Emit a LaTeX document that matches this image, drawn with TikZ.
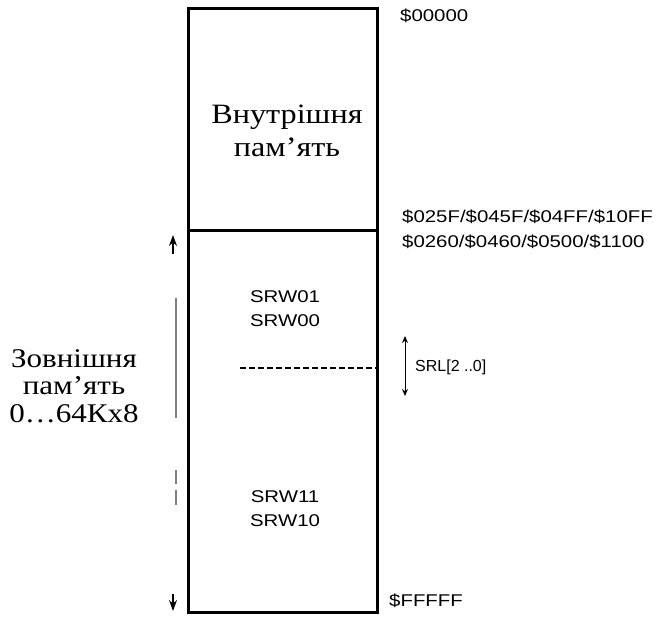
\documentclass[tikz,border=0pt]{standalone}
\usepackage{fontspec}
\setmainfont{Liberation Serif}
\newfontfamily\widefont[FakeStretch=1.15]{Liberation Serif}
\newfontfamily\addrfont[FakeStretch=1.2]{Liberation Sans}
\usetikzlibrary{arrows.meta}

\tikzset{
  memtext/.style={font=\widefont\fontsize{28}{33}\selectfont, align=center, inner sep=0pt},
  sidetext/.style={font=\widefont\fontsize{27}{27.5}\selectfont, align=center, inner sep=0pt},
  addr/.style={font=\addrfont\fontsize{17}{24}\selectfont, anchor=west, inner sep=0pt},
  frame/.style={line width=3pt},
  tip/.style={-{Stealth[length=11pt,width=8pt]}, line width=1.2pt},
}

\begin{document}
\begin{tikzpicture}[x=1pt, y=-1pt]
      \useasboundingbox (0,0) rectangle (667,619);
      % 1. кути рамки та межа між областями
      \coordinate (TL) at (188,8);
      \coordinate (BR) at (377,612);
      \coordinate (ML) at (188,230);
      \coordinate (MR) at (377,230);

      % 2. рамка пам'яті
      \draw[frame] (TL) rectangle (BR);
      \draw[frame] (ML) -- (MR);

      % 3. внутрішня пам'ять
      \node[memtext] (inner) at (287,131) {Внутрішня\\пам’ять};

      % 4. адреси праворуч
      \node[addr] (a0) at (400,16) {\$00000};
      \node[addr] (a1) at (402,217) {\$025F/\$045F/\$04FF/\$10FF};
      \node[addr] (a2) at (402,242) {\$0260/\$0460/\$0500/\$1100};
      \node[addr] (aF) at (389,601) {\$FFFFF};

      % 5. сектори зовнішньої пам'яті
      \node[addr, anchor=center, align=center] (srw0) at (285,309) {SRW01\\SRW00};
      \node[addr, anchor=center, align=center] (srw1) at (285,509) {SRW11\\SRW10};
      \coordinate (D1) at (240,368);
      \coordinate (D2) at (377,368);
      \draw[dash pattern=on 6pt off 3pt, line width=1.2pt] (D1) -- (D2);

      % 6. межа SRL
      \coordinate (S1) at (405,336);
      \coordinate (S2) at (405,396);
      \draw[{Stealth[length=7pt,width=6pt]}-{Stealth[length=7pt,width=6pt]}, line width=1pt] (S1) -- (S2);
      \node[addr, font=\fontspec{Liberation Sans}\fontsize{16}{20}\selectfont] (srl) at (415,367) {SRL[2 ..0]};

      % 7. зовнішня пам'ять ліворуч
      \node[sidetext] (outer) at (74,386) {Зовнішня\\пам’ять\\0…64Кх8};
      \coordinate (U1) at (173,254);
      \coordinate (U2) at (173,235);
      \coordinate (V1) at (173,594);
      \coordinate (V2) at (173,611);
      \draw[tip] (U1) -- (U2);
      \draw[tip] (V1) -- (V2);
      \draw[gray, line width=1.6pt] (176,298) -- (176,418);
      \draw[gray, line width=1.6pt] (176,470) -- (176,484);
      \draw[gray, line width=1.6pt] (176,490) -- (176,505);
\end{tikzpicture}
\end{document}
